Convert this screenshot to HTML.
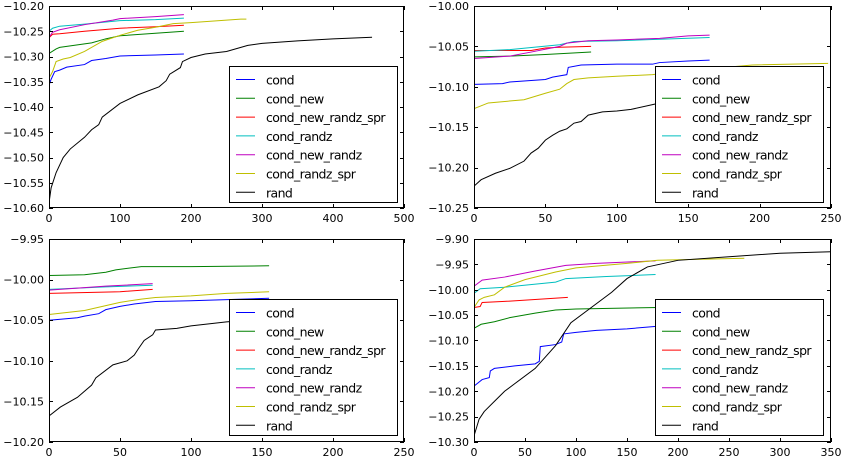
<!DOCTYPE html>
<html><head><meta charset="utf-8"><style>
body{margin:0;background:#fff;}
svg{display:block;font-family:"DejaVu Sans","Liberation Sans",sans-serif;}
</style></head><body>
<svg id="fig" width="846" height="457" viewBox="0 0 846 457" xmlns="http://www.w3.org/2000/svg"></svg>
<script>
const seriesNames=["cond","cond_new","cond_new_randz_spr","cond_randz","cond_new_randz","cond_randz_spr","rand"];
const seriesColors=["#0000ff","#008000","#ff0000","#00bfbf","#bf00bf","#bfbf00","#000000"];

// Panel 1 (top-left)
const p1_xTicks=[0,100,200,300,400,500];
const p1_yTicks=[-10.60,-10.55,-10.50,-10.45,-10.40,-10.35,-10.30,-10.25,-10.20];
const p1_cond=[[0,-10.357],[3,-10.345],[8,-10.33],[15,-10.327],[25,-10.321],[50,-10.316],[60,-10.308],[80,-10.304],[100,-10.299],[150,-10.297],[190,-10.295]];
const p1_cond_new=[[0,-10.294],[10,-10.285],[15,-10.282],[40,-10.277],[60,-10.273],[80,-10.265],[100,-10.259],[150,-10.254],[190,-10.25]];
const p1_cond_new_randz_spr=[[0,-10.263],[5,-10.256],[15,-10.255],[50,-10.25],[100,-10.244],[150,-10.241],[190,-10.238]];
const p1_cond_randz=[[0,-10.25],[5,-10.244],[15,-10.24],[50,-10.236],[100,-10.229],[150,-10.227],[190,-10.224]];
const p1_cond_new_randz=[[0,-10.262],[5,-10.252],[15,-10.247],[50,-10.237],[90,-10.228],[100,-10.225],[150,-10.221],[190,-10.217]];
const p1_cond_randz_spr=[[0,-10.343],[5,-10.33],[10,-10.31],[20,-10.305],[30,-10.302],[50,-10.29],[75,-10.27],[100,-10.258],[125,-10.248],[150,-10.242],[175,-10.235],[200,-10.233],[270,-10.226],[278,-10.226]];
const p1_rand=[[0,-10.59],[3,-10.56],[10,-10.53],[20,-10.50],[30,-10.483],[50,-10.46],[60,-10.445],[70,-10.435],[75,-10.42],[100,-10.393],[125,-10.376],[155,-10.36],[165,-10.348],[170,-10.335],[185,-10.322],[188,-10.31],[200,-10.302],[220,-10.295],[250,-10.29],[280,-10.278],[300,-10.274],[350,-10.269],[400,-10.265],[455,-10.262]];

// Panel 2 (top-right)
const p2_xTicks=[0,50,100,150,200,250];
const p2_yTicks=[-10.25,-10.20,-10.15,-10.10,-10.05,-10.00];
const p2_cond=[[0,-10.097],[20,-10.096],[25,-10.094],[50,-10.091],[55,-10.088],[65,-10.085],[66,-10.076],[75,-10.073],[100,-10.072],[125,-10.072],[130,-10.07],[150,-10.068],[165,-10.067]];
const p2_cond_new=[[0,-10.063],[25,-10.062],[50,-10.06],[82,-10.057]];
const p2_cond_new_randz_spr=[[0,-10.055],[40,-10.055],[50,-10.052],[60,-10.051],[82,-10.05]];
const p2_cond_randz=[[0,-10.056],[25,-10.054],[60,-10.048],[70,-10.044],[100,-10.043],[165,-10.039]];
const p2_cond_new_randz=[[0,-10.065],[25,-10.062],[40,-10.057],[60,-10.05],[65,-10.046],[80,-10.043],[100,-10.042],[130,-10.04],[150,-10.037],[165,-10.036]];
const p2_cond_randz_spr=[[0,-10.127],[10,-10.12],[35,-10.116],[50,-10.108],[60,-10.103],[65,-10.096],[70,-10.091],[80,-10.089],[100,-10.087],[125,-10.085],[150,-10.08],[195,-10.073],[248,-10.071]];
const p2_rand=[[0,-10.223],[5,-10.215],[15,-10.207],[25,-10.201],[35,-10.192],[40,-10.182],[45,-10.176],[50,-10.166],[55,-10.16],[60,-10.155],[65,-10.152],[70,-10.145],[75,-10.143],[80,-10.135],[90,-10.131],[100,-10.13],[110,-10.128],[125,-10.122],[135,-10.118],[165,-10.11]];

// Panel 3 (bottom-left)
const p3_xTicks=[0,50,100,150,200,250];
const p3_yTicks=[-10.20,-10.15,-10.10,-10.05,-10.00,-9.95];
const p3_cond=[[0,-10.05],[20,-10.047],[25,-10.045],[35,-10.042],[40,-10.037],[50,-10.033],[60,-10.03],[75,-10.027],[100,-10.026],[155,-10.023]];
const p3_cond_new=[[0,-9.995],[25,-9.994],[40,-9.991],[47,-9.988],[65,-9.984],[100,-9.984],[155,-9.983]];
const p3_cond_new_randz_spr=[[0,-10.017],[50,-10.015],[73,-10.012]];
const p3_cond_randz=[[0,-10.012],[40,-10.009],[73,-10.007]];
const p3_cond_new_randz=[[0,-10.013],[40,-10.008],[73,-10.005]];
const p3_cond_randz_spr=[[0,-10.043],[25,-10.038],[35,-10.034],[50,-10.028],[65,-10.024],[75,-10.022],[100,-10.02],[125,-10.017],[155,-10.015]];
const p3_rand=[[0,-10.168],[8,-10.157],[20,-10.145],[30,-10.13],[33,-10.121],[45,-10.105],[55,-10.1],[60,-10.093],[63,-10.085],[67,-10.075],[73,-10.068],[75,-10.062],[90,-10.06],[100,-10.057],[125,-10.052],[155,-10.048]];

// Panel 4 (bottom-right)
const p4_xTicks=[0,50,100,150,200,250,300,350];
const p4_yTicks=[-10.30,-10.25,-10.20,-10.15,-10.10,-10.05,-10.00,-9.95,-9.90];
const p4_cond=[[0,-10.19],[8,-10.177],[15,-10.173],[16,-10.16],[20,-10.155],[40,-10.15],[60,-10.146],[64,-10.141],[65,-10.112],[80,-10.108],[86,-10.103],[88,-10.087],[100,-10.084],[120,-10.08],[150,-10.077],[180,-10.072]];
const p4_cond_new=[[0,-10.076],[7,-10.068],[20,-10.063],[35,-10.055],[60,-10.046],[80,-10.04],[100,-10.038],[180,-10.035]];
const p4_cond_new_randz_spr=[[0,-10.035],[6,-10.033],[8,-10.025],[30,-10.023],[92,-10.015]];
const p4_cond_randz=[[0,-10.007],[6,-9.998],[30,-9.995],[80,-9.985],[90,-9.978],[130,-9.974],[178,-9.97]];
const p4_cond_new_randz=[[0,-9.993],[8,-9.981],[30,-9.975],[60,-9.963],[90,-9.952],[120,-9.948],[178,-9.943]];
const p4_cond_randz_spr=[[0,-10.035],[5,-10.02],[10,-10.015],[20,-10.01],[30,-9.995],[50,-9.98],[80,-9.965],[100,-9.957],[150,-9.948],[180,-9.942],[265,-9.938]];
const p4_rand=[[0,-10.288],[5,-10.255],[10,-10.24],[20,-10.22],[30,-10.2],[40,-10.185],[60,-10.155],[80,-10.11],[95,-10.065],[115,-10.035],[135,-10.005],[150,-9.978],[170,-9.955],[200,-9.942],[250,-9.935],[300,-9.928],[350,-9.925]];

const NS="http://www.w3.org/2000/svg";
const svg=document.getElementById('fig');
function mk(tag,attrs,parent){const e=document.createElementNS(NS,tag);for(const k in attrs)e.setAttribute(k,attrs[k]);(parent||svg).appendChild(e);return e;}
function fmt(v,d){return (v<0?"\u2212":"")+Math.abs(v).toFixed(d);}

const panels=[
 {id:"top-left",L:49,R:404,T:6,B:208,xTicks:p1_xTicks,yTicks:p1_yTicks,series:[p1_cond,p1_cond_new,p1_cond_new_randz_spr,p1_cond_randz,p1_cond_new_randz,p1_cond_randz_spr,p1_rand],leg:[229,66]},
 {id:"top-right",L:474,R:831,T:6,B:208,xTicks:p2_xTicks,yTicks:p2_yTicks,series:[p2_cond,p2_cond_new,p2_cond_new_randz_spr,p2_cond_randz,p2_cond_new_randz,p2_cond_randz_spr,p2_rand],leg:[655,66]},
 {id:"bottom-left",L:49,R:404,T:239,B:442,xTicks:p3_xTicks,yTicks:p3_yTicks,series:[p3_cond,p3_cond_new,p3_cond_new_randz_spr,p3_cond_randz,p3_cond_new_randz,p3_cond_randz_spr,p3_rand],leg:[229,299]},
 {id:"bottom-right",L:474,R:831,T:239,B:442,xTicks:p4_xTicks,yTicks:p4_yTicks,series:[p4_cond,p4_cond_new,p4_cond_new_randz_spr,p4_cond_randz,p4_cond_new_randz,p4_cond_randz_spr,p4_rand],leg:[655,299]}
];

panels.forEach(p=>{
 const g=mk('g',{});
 
 
 const x0=p.xTicks[0],x1=p.xTicks[p.xTicks.length-1];
 const y0=p.yTicks[0],y1=p.yTicks[p.yTicks.length-1];
 const sx=v=>p.L+(v-x0)/(x1-x0)*(p.R-p.L);
 const sy=v=>p.B-(v-y0)/(y1-y0)*(p.B-p.T);
 const clipId='clip-'+p.id;
 const cp=mk('clipPath',{id:clipId},g);
 mk('rect',{x:p.L,y:p.T,width:p.R-p.L,height:p.B-p.T},cp);
 const lines=mk('g',{'clip-path':'url(#'+clipId+')'},g);
 p.series.forEach((s,i)=>{
  const pl=mk('polyline',{points:s.map(d=>sx(d[0]).toFixed(2)+','+sy(d[1]).toFixed(2)).join(' '),fill:'none',stroke:seriesColors[i],'stroke-width':1},lines);
  
  
 });
 const frame=mk('rect',{x:p.L+0.5,y:p.T+0.5,width:p.R-p.L-1,height:p.B-p.T-1,fill:'none',stroke:'#000','stroke-width':1},g);
 
 
 p.xTicks.forEach(v=>{
  const x=Math.round(sx(v))+0.5;
  mk('line',{x1:x,x2:x,y1:p.B,y2:p.B-4,stroke:'#000'},g);
  mk('line',{x1:x,x2:x,y1:p.T,y2:p.T+4,stroke:'#000'},g);
  const t=mk('text',{x:sx(v),y:p.B+14,'text-anchor':'middle','font-size':11,fill:'#000'},g);
  t.textContent=String(v);
  
  
 });
 p.yTicks.forEach(v=>{
  const y=Math.round(sy(v))+0.5;
  mk('line',{x1:p.L,x2:p.L+4,y1:y,y2:y,stroke:'#000'},g);
  mk('line',{x1:p.R-4,x2:p.R,y1:y,y2:y,stroke:'#000'},g);
  const t=mk('text',{x:p.L-5,y:sy(v)+4,'text-anchor':'end','font-size':11,fill:'#000'},g);
  t.textContent=fmt(v,2);
  
  
 });
 const lg=mk('g',{},g);
 
 
 mk('rect',{x:p.leg[0]+0.5,y:p.leg[1]+0.5,width:168,height:136,fill:'#fff',stroke:'#000'},lg);
 seriesNames.forEach((n,i)=>{
  const yy=p.leg[1]+13.5+i*18.8;
  const e=mk('g',{},lg);
  
  
  mk('line',{x1:p.leg[0]+7,x2:p.leg[0]+26,y1:yy,y2:yy,stroke:seriesColors[i]},e);
  const t=mk('text',{x:p.leg[0]+37,y:yy+5,'font-size':12.5,'letter-spacing':'-0.6',fill:'#000'},e);
  t.textContent=n;
 });
});
</script>
</body></html>
